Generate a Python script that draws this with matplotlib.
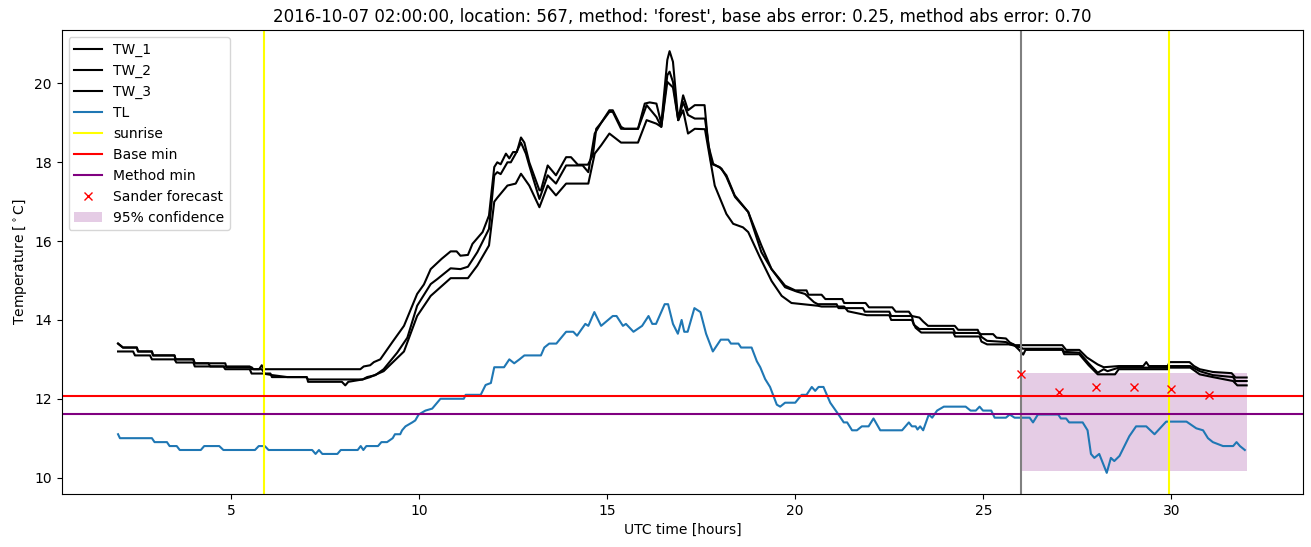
import numpy as np
import matplotlib
matplotlib.use("Agg")
import matplotlib.pyplot as plt

# wall temperature sensors (time in hours, value in deg C)
tw1_t = [2.0, 2.13, 2.5, 2.53, 2.9, 2.93, 3.5, 3.53, 4.0, 4.04, 4.85, 4.88, 5.55, 5.6, 5.75, 5.82, 5.88,
         8.44, 8.53, 8.7, 8.8, 8.97, 9.3, 9.6, 9.95, 10.13, 10.31, 10.6, 10.84, 11.0, 11.1, 11.3, 11.42,
         11.69, 11.86, 12.0, 12.08, 12.17, 12.31, 12.4, 12.5, 12.6, 12.71, 12.8, 12.93, 13.2, 13.24, 13.42,
         13.64, 13.91, 14.04, 14.22, 14.49, 14.62, 14.71, 14.84, 15.06, 15.15, 15.37, 15.46, 15.82, 16.0,
         16.13, 16.31, 16.44, 16.6, 16.66, 16.75, 16.89, 17.02, 17.15, 17.33, 17.59, 17.69, 17.82, 18.04,
         18.17, 18.4, 18.75, 19.1, 19.37, 19.73, 20.0, 20.3, 20.35, 20.7, 20.8, 21.25, 21.3, 21.87, 21.96,
         22.58, 22.67, 23.02, 23.1, 23.3, 23.4, 23.53, 24.24, 24.33, 24.85, 24.9, 25.26, 25.35, 25.6, 25.7,
         25.84, 26.04, 27.1, 27.2, 27.55, 27.75, 28.04, 28.2, 28.6, 29.25, 29.33, 29.4, 29.9, 29.95, 30.48,
         30.6, 30.75, 31.1, 31.6, 31.7, 32.0]
tw1_v = [13.4, 13.3, 13.3, 13.2, 13.2, 13.1, 13.1, 13.0, 13.0, 12.9, 12.9, 12.8, 12.8, 12.75, 12.75, 12.85, 12.75,
         12.75, 12.82, 12.85, 12.93, 13.0, 13.45, 13.85, 14.66, 14.9, 15.29, 15.55, 15.74, 15.74, 15.63, 15.65, 15.93,
         16.23, 16.65, 17.88, 18.0, 17.95, 18.22, 18.1, 18.26, 18.26, 18.63, 18.5, 18.0, 17.29, 17.29, 17.92,
         17.67, 18.13, 18.13, 17.94, 17.94, 18.18, 18.85, 19.0, 19.32, 19.32, 18.9, 18.85, 18.85, 19.49,
         19.52, 19.49, 18.98, 20.6, 20.82, 20.55, 19.07, 19.7, 19.32, 19.45, 19.45, 18.43, 17.96, 17.84,
         17.63, 17.12, 16.74, 15.89, 15.29, 14.87, 14.75, 14.75, 14.64, 14.64, 14.53, 14.53, 14.43, 14.43, 14.32,
         14.32, 14.21, 14.21, 14.1, 14.06, 13.96, 13.85, 13.85, 13.75, 13.75, 13.64, 13.64, 13.55, 13.53, 13.43,
         13.36, 13.36, 13.36, 13.24, 13.24, 13.05, 12.87, 12.8, 12.83, 12.83, 12.93, 12.83, 12.83, 12.93, 12.93,
         12.83, 12.75, 12.68, 12.65, 12.54, 12.54]

tw2_t = [2.0, 2.13, 2.5, 2.53, 2.9, 2.93, 3.5, 3.53, 4.0, 4.04, 4.4, 4.45, 5.5, 5.55, 5.82, 5.9, 6.05, 6.09,
         7.0, 7.05, 8.5, 8.62, 8.84, 9.06, 9.42, 9.69, 9.95, 10.31, 10.49, 10.84, 11.1, 11.3, 11.55, 11.86,
         12.0, 12.08, 12.17, 12.35, 12.44, 12.57, 12.71, 12.84, 12.93, 13.2, 13.42, 13.64, 13.91, 14.35, 14.5,
         14.67, 14.84, 15.06, 15.15, 15.37, 15.82, 16.05, 16.31, 16.44, 16.6, 16.66, 16.75, 16.89, 17.02,
         17.15, 17.33, 17.6, 17.77, 17.99, 18.17, 18.39, 18.75, 19.1, 19.37, 19.73, 20.04, 20.26, 20.5, 20.6,
         21.1, 21.15, 21.8, 21.85, 22.5, 22.55, 23.1, 23.15, 23.3, 24.2, 24.25, 24.9, 24.95, 25.1, 25.6, 25.7,
         26.0, 26.05, 27.1, 27.15, 27.55, 27.8, 28.04, 28.2, 28.3, 28.6, 29.9, 29.95, 30.5, 30.75, 31.1,
         31.64, 31.7, 32.0]
tw2_v = [13.4, 13.3, 13.3, 13.2, 13.2, 13.1, 13.1, 13.0, 13.0, 12.9, 12.9, 12.82, 12.82, 12.75, 12.75, 12.64, 12.64, 12.55,
         12.55, 12.49, 12.49, 12.55, 12.6, 12.75, 13.17, 13.55, 14.36, 14.91, 15.04, 15.31, 15.29, 15.35, 15.72, 16.31,
         17.67, 17.75, 17.7, 18.0, 18.0, 18.22, 18.5, 18.22, 17.92, 17.07, 17.67, 17.46, 17.92, 17.92, 17.75,
         18.73, 19.0, 19.28, 19.28, 18.85, 18.85, 19.45, 19.15, 18.9, 20.21, 20.3, 20.04, 19.07, 19.53,
         19.2, 19.11, 19.11, 17.96, 17.88, 17.67, 17.16, 16.74, 15.72, 15.29, 14.83, 14.72, 14.66, 14.45, 14.4,
         14.4, 14.3, 14.3, 14.21, 14.21, 14.1, 14.1, 13.88, 13.77, 13.77, 13.67, 13.67, 13.57, 13.47, 13.44, 13.38,
         13.3, 13.27, 13.27, 13.19, 13.17, 12.9, 12.66, 12.75, 12.7, 12.79, 12.79, 12.83, 12.83, 12.7, 12.6,
         12.55, 12.45, 12.45]

tw3_t = [2.0, 2.4, 2.45, 2.85, 2.9, 3.5, 3.55, 4.0, 4.04, 4.8, 4.85, 5.5, 5.55, 5.85, 6.1, 6.5, 7.02, 7.05,
         7.95, 8.04, 8.12, 8.5, 8.7, 9.06, 9.6, 9.95, 10.31, 10.84, 11.3, 11.55, 11.86, 12.0, 12.08, 12.35,
         12.57, 12.71, 12.93, 13.2, 13.42, 13.64, 13.91, 14.5, 14.67, 14.84, 15.06, 15.37, 15.82, 16.05,
         16.31, 16.44, 16.6, 16.75, 16.89, 17.02, 17.15, 17.33, 17.6, 17.86, 18.17, 18.35, 18.61, 18.75,
         19.06, 19.37, 19.64, 19.9, 20.6, 20.7, 21.3, 21.4, 21.9, 22.5, 22.55, 23.1, 23.2, 23.35, 24.2, 24.25,
         24.9, 24.95, 25.1, 25.8, 25.95, 26.06, 26.12, 27.1, 27.15, 27.55, 27.8, 28.04, 28.5, 28.6, 29.9,
         29.95, 30.5, 30.75, 31.1, 31.64, 31.75, 32.0]
tw3_v = [13.2, 13.2, 13.1, 13.1, 13.0, 13.0, 12.92, 12.92, 12.82, 12.82, 12.75, 12.75, 12.64, 12.64, 12.6, 12.55, 12.55, 12.43,
         12.43, 12.34, 12.43, 12.49, 12.55, 12.7, 13.2, 14.1, 14.61, 15.06, 15.06, 15.38, 15.89, 17.0, 17.1, 17.41,
         17.46, 17.71, 17.41, 16.86, 17.41, 17.16, 17.46, 17.46, 18.22, 18.43, 18.73, 18.5, 18.5, 19.07,
         18.98, 18.9, 20.04, 19.9, 19.07, 19.32, 18.73, 18.85, 18.84, 17.41, 16.69, 16.44, 16.35, 16.23,
         15.59, 14.99, 14.61, 14.43, 14.36, 14.34, 14.34, 14.22, 14.12, 14.12, 14.0, 14.0, 13.8, 13.68, 13.68, 13.58,
         13.58, 13.45, 13.38, 13.38, 13.24, 13.12, 13.24, 13.24, 13.13, 13.13, 12.85, 12.62, 12.62, 12.75, 12.75,
         12.79, 12.79, 12.62, 12.55, 12.45, 12.34, 12.34]

# air temperature
tl_t = [2.0, 2.05, 2.9, 2.97, 3.3, 3.37, 3.56, 3.64, 4.2, 4.29, 4.69, 4.8, 5.64, 5.74, 5.9, 6.0, 7.16, 7.25,
        7.34, 7.43, 7.83, 7.92, 8.37, 8.45, 8.52, 8.6, 8.91, 9.0, 9.15, 9.3, 9.36, 9.5, 9.55, 9.64, 9.82, 9.9,
        9.99, 10.17, 10.35, 10.57, 11.19, 11.24, 11.64, 11.77, 11.91, 12.0, 12.26, 12.4, 12.53, 12.67, 12.8,
        13.24, 13.33, 13.46, 13.65, 13.91, 14.1, 14.2, 14.42, 14.5, 14.66, 14.84, 15.15, 15.25, 15.42, 15.5,
        15.7, 15.93, 16.1, 16.2, 16.3, 16.53, 16.62, 16.75, 16.88, 16.98, 17.05, 17.14, 17.32, 17.48, 17.63,
        17.81, 18.02, 18.22, 18.29, 18.49, 18.56, 18.84, 18.98, 19.07, 19.2, 19.33, 19.51, 19.6, 19.73, 20.0,
        20.17, 20.3, 20.44, 20.53, 20.62, 20.75, 20.93, 21.15, 21.29, 21.38, 21.51, 21.64, 21.77, 21.95, 22.08,
        22.26, 22.84, 23.02, 23.1, 23.2, 23.25, 23.32, 23.4, 23.55, 23.64, 23.77, 23.95, 24.53, 24.66, 24.8,
        24.9, 24.99, 25.21, 25.3, 25.6, 25.7, 25.83, 26.23, 26.32, 26.45, 26.99, 27.06, 27.2, 27.28, 27.64,
        27.77, 27.86, 27.95, 28.08, 28.28, 28.39, 28.48, 28.62, 28.88, 29.06, 29.33, 29.55, 29.86, 30.4,
        30.66, 30.84, 30.97, 31.1, 31.37, 31.64, 31.73, 31.82, 31.95]
tl_v = [11.1, 11.0, 11.0, 10.9, 10.9, 10.8, 10.8, 10.7, 10.7, 10.8, 10.8, 10.7, 10.7, 10.8, 10.8, 10.7, 10.7, 10.6,
        10.7, 10.6, 10.6, 10.7, 10.7, 10.8, 10.7, 10.8, 10.8, 10.9, 10.9, 11.0, 11.1, 11.1, 11.2, 11.3, 11.4, 11.45,
        11.6, 11.7, 11.75, 12.0, 12.0, 12.1, 12.1, 12.35, 12.4, 12.8, 12.8, 13.0, 12.9, 13.0, 13.1,
        13.1, 13.3, 13.4, 13.4, 13.7, 13.7, 13.6, 13.9, 13.85, 14.2, 13.85, 14.1, 14.1, 13.85, 13.9,
        13.7, 13.85, 14.1, 13.9, 13.9, 14.4, 14.4, 13.9, 13.65, 14.0, 13.7, 13.7, 14.3, 14.2, 13.65,
        13.2, 13.5, 13.5, 13.4, 13.4, 13.3, 13.3, 12.95, 12.8, 12.5, 12.3, 11.85, 11.8, 11.9, 11.9,
        12.1, 12.1, 12.3, 12.2, 12.3, 12.3, 11.9, 11.6, 11.4, 11.4, 11.2, 11.2, 11.3, 11.3, 11.5,
        11.2, 11.2, 11.4, 11.3, 11.3, 11.22, 11.3, 11.2, 11.6, 11.52, 11.7, 11.8, 11.8, 11.7, 11.7,
        11.8, 11.7, 11.7, 11.52, 11.52, 11.6, 11.52, 11.52, 11.4, 11.6, 11.6, 11.5, 11.5, 11.4, 11.4,
        11.2, 10.6, 10.5, 10.6, 10.12, 10.5, 10.42, 10.55, 11.05, 11.3, 11.3, 11.1, 11.42, 11.42,
        11.25, 11.2, 11.0, 10.9, 10.8, 10.8, 10.9, 10.8, 10.7]

sunrise = [5.88, 29.93]
forecast_start = 26.0
base_min = 12.07
method_min = 11.62
sander_t = [26, 27, 28, 29, 30, 31]
sander_v = [12.62, 12.16, 12.31, 12.31, 12.26, 12.09]
conf_t = [26, 32]
conf_lo = [10.16, 10.16]
conf_hi = [12.66, 12.66]

fig, ax = plt.subplots(figsize=(13.11, 5.47), dpi=100)
plt.subplots_adjust(left=0.047, right=0.994, top=0.945, bottom=0.097)

ax.plot(tw1_t, tw1_v, color='black', label='TW_1')
ax.plot(tw2_t, tw2_v, color='black', label='TW_2')
ax.plot(tw3_t, tw3_v, color='black', label='TW_3')
ax.plot(tl_t, tl_v, color='tab:blue', label='TL')
ax.axvline(sunrise[0], color='yellow', label='sunrise')
ax.axvline(sunrise[1], color='yellow')
ax.axvline(forecast_start, color='grey')
ax.axhline(base_min, color='red', label='Base min')
ax.axhline(method_min, color='purple', label='Method min')
ax.plot(sander_t, sander_v, 'x', color='red', label='Sander forecast')
ax.fill_between(conf_t, conf_lo, conf_hi, color='purple', alpha=0.2, linewidth=0, label='95% confidence')

ax.set_xlabel('UTC time [hours]')
ax.set_ylabel('Temperature [$^\\circ$C]')
ax.set_title("2016-10-07 02:00:00, location: 567, method: 'forest', base abs error: 0.25, method abs error: 0.70")
ax.legend(loc='upper left')

plt.savefig('out.png')
